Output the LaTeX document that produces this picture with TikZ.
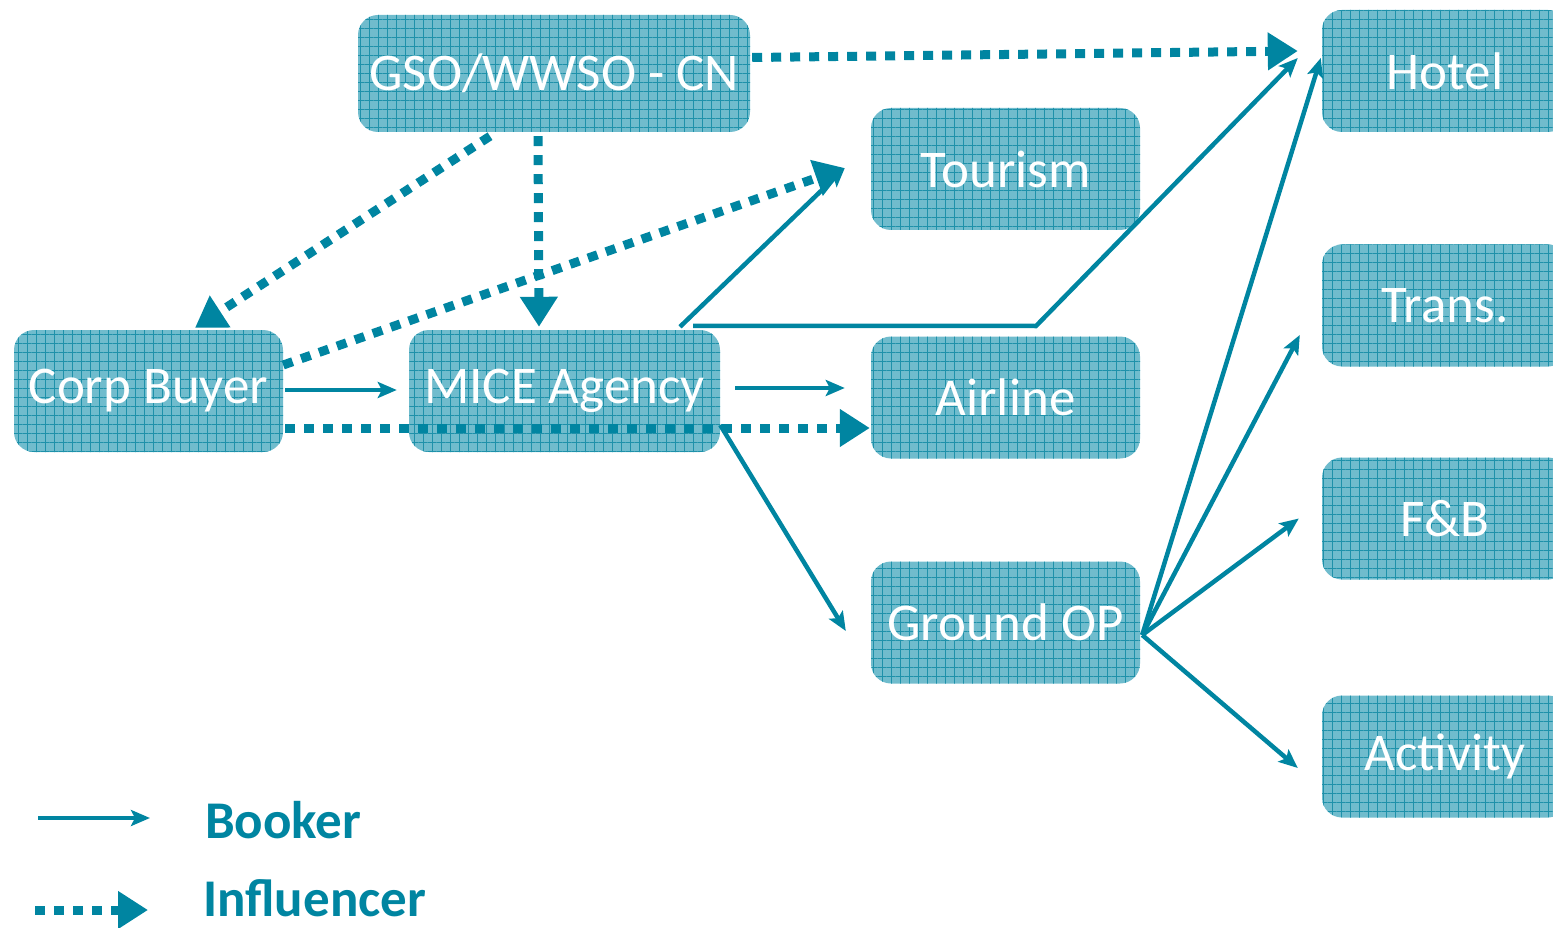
\documentclass[tikz,border=0pt]{standalone}
\usepackage{fontspec}
\setmainfont{Carlito}
\usepackage{tikz}
\usetikzlibrary{arrows.meta,patterns.meta}
\definecolor{teal1}{RGB}{0,133,161}
\definecolor{boxfill}{RGB}{112,188,205}
\definecolor{gridcol}{RGB}{30,145,170}
\tikzset{
  box/.style={rounded corners=20pt, fill=boxfill, text=white,
    font=\fontsize{53}{60}\selectfont, minimum height=122pt, inner sep=0pt,
    postaction={pattern={Lines[angle=0,distance=9pt,line width=0.9pt]},pattern color=gridcol},
    postaction={pattern={Lines[angle=90,distance=9pt,line width=0.9pt]},pattern color=gridcol}},
  booker/.style={teal1, line width=4.5pt, -{Stealth[length=19pt,width=16pt,inset=4pt]}},
  influencer/.style={teal1, line width=9pt, dash pattern=on 10pt off 9pt,
    -{Triangle[length=30pt,width=36pt]}},
  legendtext/.style={text=teal1, font=\fontsize{53}{60}\selectfont\bfseries, anchor=base west, inner sep=0pt}
}
\begin{document}
\begin{tikzpicture}[x=1pt,y=-1pt]
\useasboundingbox (0,0) rectangle (1553,928);
\clip (0,0) rectangle (1553,928);
% boxes
\node[box, minimum width=392pt, minimum height=117pt] (gso) at (554,73.5) {GSO/WWSO - CN};
\node[box, minimum width=269pt] (corp) at (148.5,391) {Corp Buyer};
\node[box, minimum width=311pt] (mice) at (564.5,391) {MICE Agency};
\node[box, minimum width=269pt] (tour) at (1005.5,169) {Tourism};
\node[box, minimum width=269pt] (airline) at (1005.5,397.5) {Airline};
\node[box, minimum width=269pt] (gop) at (1005.5,622.5) {Ground OP};
\node[box, minimum width=246pt] (hotel) at (1445,71) {Hotel};
\node[box, minimum width=246pt] (trans) at (1445,305.5) {Trans.};
\node[box, minimum width=246pt] (fb) at (1445,518.5) {F\&B};
\node[box, minimum width=246pt] (act) at (1445,756.5) {Activity};
\coordinate (bend) at (1036,326);
\coordinate (fan) at ([xshift=2pt,yshift=-12.5pt]gop.east);
% influencer
\draw[influencer] ([xshift=2pt,yshift=16pt]gso.east) -- ([xshift=-24pt,yshift=20pt]hotel.west);
\draw[influencer] ([xshift=-64pt,yshift=-4pt]gso.south) -- ([xshift=46.5pt,yshift=2pt]corp.north);
\draw[influencer] ([xshift=-16pt,yshift=-4pt]gso.south) -- ([xshift=-25.5pt,yshift=3pt]mice.north);
\draw[influencer] ([yshift=26pt]corp.east) -- ([xshift=-26pt,yshift=1pt]tour.west);
\draw[influencer] ([xshift=2pt,yshift=-37pt]corp.east) -- ([xshift=-1pt,yshift=-30.5pt]airline.west);
% booker
\draw[booker] ([xshift=2pt,yshift=1pt]corp.east) -- ([xshift=-12pt,yshift=1pt]mice.west);
\draw[booker] ([xshift=15pt,yshift=3pt]mice.east) -- ([xshift=-26pt,yshift=9.5pt]airline.west);
\draw[booker] ([xshift=115.5pt,yshift=3pt]mice.north) -- ([xshift=-26pt,yshift=1pt]tour.west);
\draw[booker] ([xshift=128.5pt,yshift=4pt]mice.north) -- (bend) -- ([xshift=-24pt,yshift=13pt]hotel.west);
\draw[booker] ([yshift=-34pt]mice.east) -- ([xshift=-25pt,yshift=-8.5pt]gop.west);
\draw[booker] (fan) -- ([xshift=-1pt,yshift=13pt]hotel.west);
\draw[booker] (fan) -- ([xshift=-22pt,yshift=-29.5pt]trans.west);
\draw[booker] (fan) -- ([xshift=-23pt]fb.west);
\draw[booker] (fan) -- ([xshift=-24pt,yshift=-11.5pt]act.west);
% legend
\coordinate (lb1) at (38,818);
\coordinate (lb2) at (150,818);
\coordinate (li1) at (35,910);
\coordinate (li2) at (148,910);
\draw[booker] (lb1) -- (lb2);
\draw[influencer] (li1) -- (li2);
\node[legendtext] (bktext) at (205,838) {Booker};
\node[legendtext] (inftext) at (203,916) {Influencer};
\end{tikzpicture}
\end{document}
